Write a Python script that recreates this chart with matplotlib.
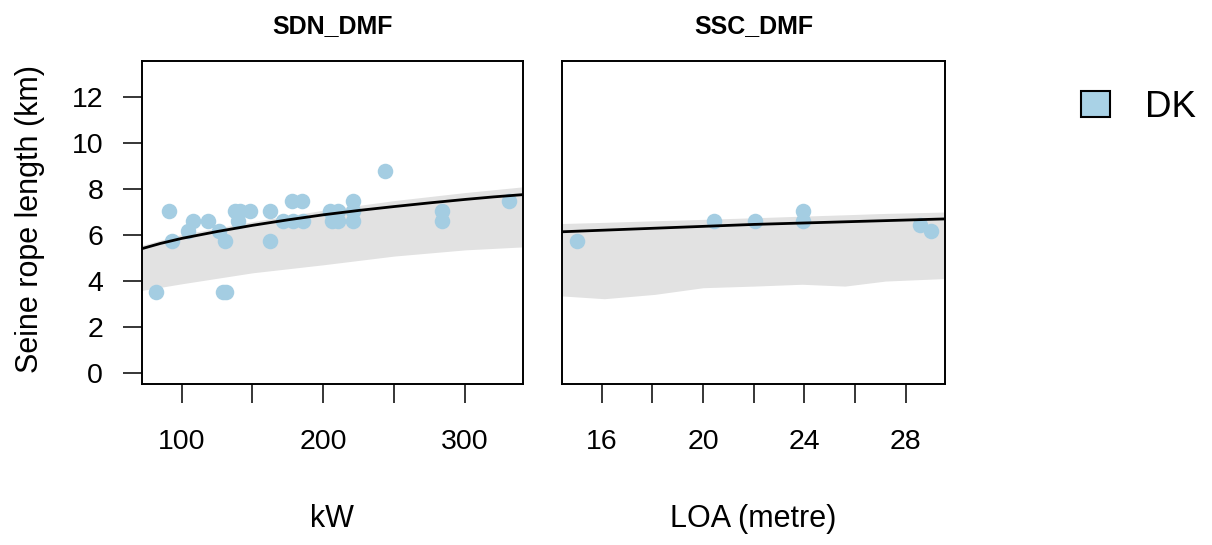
import numpy as np
import matplotlib as mpl
mpl.use('Agg')
import matplotlib.pyplot as plt
from matplotlib.patches import Patch

mpl.rc('font', family=['Liberation Sans', 'DejaVu Sans'])

# SDN_DMF: engine power (kW) vs seine rope length (km)
sdn_kw = [81.6, 91, 93.4, 104.7, 108.2, 118.8, 126.5, 130.6, 129.5, 131.5,
          137.6, 141.2, 148.2, 140, 162.3, 162.3, 171.7, 178.8, 185.8, 177.6,
          184.7, 204.7, 210.5, 205.9, 210.5, 221, 221, 221, 243.5, 283.5,
          283.5, 331.2]
sdn_km = [3.52, 7.04, 5.72, 6.16, 6.6, 6.6, 6.16, 5.72, 3.52, 3.52,
          7.04, 7.04, 7.04, 6.6, 7.04, 5.72, 6.6, 6.6, 6.6, 7.48,
          7.48, 7.04, 7.04, 6.6, 6.6, 7.48, 7.04, 6.6, 8.8, 7.04,
          6.6, 7.48]
# fitted curve and band
sdn_fit_x = [71.8, 85, 100, 125, 150, 175, 200, 225, 250, 275, 300, 320, 341]
sdn_fit_y = [5.4, 5.63, 5.85, 6.15, 6.42, 6.66, 6.88, 7.07, 7.24, 7.4, 7.55, 7.66, 7.76]
sdn_band_x = [71.8, 100, 150, 200, 250, 300, 341]
sdn_band_lo = [3.58, 3.87, 4.35, 4.7, 5.08, 5.35, 5.48]
sdn_band_hi = [5.55, 6.02, 6.58, 7.08, 7.5, 7.85, 8.1]

# SSC_DMF: vessel length (m) vs seine rope length (km)
ssc_loa = [15.01, 20.42, 22.04, 23.96, 23.96, 28.57, 28.99]
ssc_km = [5.72, 6.6, 6.6, 7.04, 6.6, 6.42, 6.16]
ssc_fit_x = [14.44, 22, 29.55]
ssc_fit_y = [6.14, 6.46, 6.7]
ssc_band_x = [14.44, 16.1, 18.1, 20, 22, 23.9, 25.6, 27.2, 29.55]
ssc_band_lo = [3.34, 3.22, 3.41, 3.7, 3.77, 3.85, 3.77, 3.99, 4.1]
ssc_band_hi = [6.5, 6.55, 6.62, 6.68, 6.75, 6.82, 6.88, 6.94, 7.0]

pt_col = '#a4cde2'
band_col = '#e2e2e2'
ylim = (-0.5, 13.6)

fig = plt.figure(figsize=(12.12, 5.45), dpi=100)
ax1 = fig.add_axes([0.1169, 0.2954, 0.3144, 0.5932])
ax2 = fig.add_axes([0.4639, 0.2954, 0.3158, 0.5932])

def style(ax, title):
	for s in ax.spines.values():
		s.set_linewidth(1.4)
	ax.tick_params(direction='out', length=13.7, width=1.1, labelsize=20.5)
	ax.tick_params(axis='x', pad=19)
	ax.tick_params(axis='y', pad=14)
	ax.set_title(title, fontsize=18, fontweight='bold', pad=20)
	ax.set_ylim(ylim)

# left panel
ax1.fill_between(sdn_band_x, sdn_band_lo, sdn_band_hi, color=band_col, lw=0, zorder=1)
ax1.scatter(sdn_kw, sdn_km, s=125, color=pt_col, lw=0, zorder=2)
ax1.plot(sdn_fit_x, sdn_fit_y, color='black', lw=2, zorder=3)
ax1.set_xlim(71.8, 340.7)
ax1.set_xticks([100, 150, 200, 250, 300])
ax1.set_xticklabels(['100', '', '200', '', '300'])
ax1.set_yticks(range(0, 13, 2))
ax1.set_xlabel('kW', fontsize=22)
ax1.set_ylabel('Seine rope length (km)', fontsize=22)
style(ax1, 'SDN_DMF')

# right panel
ax2.fill_between(ssc_band_x, ssc_band_lo, ssc_band_hi, color=band_col, lw=0, zorder=1)
ax2.scatter(ssc_loa, ssc_km, s=125, color=pt_col, lw=0, zorder=2)
ax2.plot(ssc_fit_x, ssc_fit_y, color='black', lw=2, zorder=3)
ax2.set_xlim(14.44, 29.55)
ax2.set_xticks(range(16, 29, 2))
ax2.set_xticklabels(['16', '', '20', '', '24', '', '28'])
ax2.set_yticks([])
ax2.set_xlabel('LOA (metre)', fontsize=22)
style(ax2, 'SSC_DMF')

for ax in (ax1, ax2):
	ax.xaxis.set_label_coords(0.5, 1 - (519 - 60.7) / 323.3)
	ax.xaxis.label.set_verticalalignment('center')
ax1.yaxis.set_label_coords((30 - 141.7) / 381.0, 0.51)
ax1.yaxis.label.set_verticalalignment('center')

handle = Patch(facecolor='#a9d2e6', edgecolor='black', linewidth=1.5)
fig.legend([handle], ['DK'], loc='center left', frameon=False, fontsize=26.5,
	bbox_to_anchor=(1080.7 / 1212, 1 - 107.5 / 545), borderpad=0, borderaxespad=0,
	handlelength=0.79, handleheight=0.68, handletextpad=0.95)

plt.savefig('out.png', dpi=100)
